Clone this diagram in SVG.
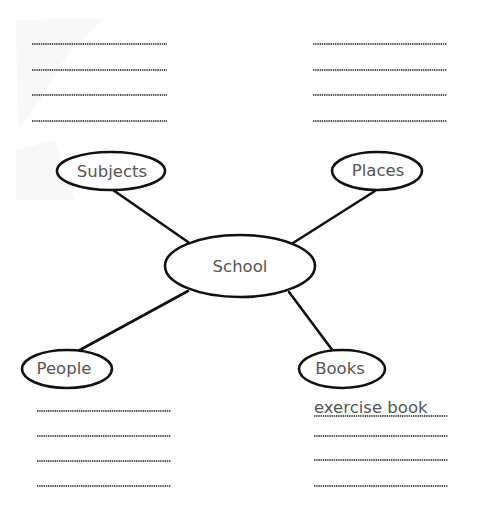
<svg xmlns="http://www.w3.org/2000/svg" width="481" height="520" viewBox="0 0 481 520">
<style>
.bg{fill:#fff}
.node ellipse{fill:#fff;stroke:#111;stroke-width:2.6}
.lbl{font-family:"DejaVu Sans",sans-serif;font-size:16.5px;fill:#555;text-anchor:middle}
.conn line{stroke:#111;stroke-width:2.6;stroke-linecap:round}
.dots line{stroke:#222;stroke-width:1.6;stroke-dasharray:1.4 0.8}
</style>
<rect class="bg" x="0" y="0" width="481" height="520"/>
<path d="M16 20 L105 18 L70 50 L40 100 L18 130 Z M16 150 L55 140 L75 200 L16 200 Z" fill="#f8f8f8"/>
<g class="dots" id="lines-top-left">
<line x1="32" y1="44" x2="167" y2="44"/>
<line x1="32" y1="70" x2="167" y2="70"/>
<line x1="32" y1="95" x2="167" y2="95"/>
<line x1="32" y1="121" x2="167" y2="121"/>
</g>
<g class="dots" id="lines-top-right">
<line x1="313" y1="44" x2="447" y2="44"/>
<line x1="313" y1="70" x2="447" y2="70"/>
<line x1="313" y1="95" x2="447" y2="95"/>
<line x1="313" y1="121" x2="447" y2="121"/>
</g>
<g class="dots" id="lines-bottom-left">
<line x1="37" y1="411" x2="171" y2="411"/>
<line x1="37" y1="436" x2="171" y2="436"/>
<line x1="37" y1="461" x2="171" y2="461"/>
<line x1="37" y1="486" x2="171" y2="486"/>
</g>
<g class="dots" id="lines-bottom-right">
<line x1="314" y1="416" x2="448" y2="416"/>
<line x1="314" y1="436" x2="448" y2="436"/>
<line x1="314" y1="460" x2="448" y2="460"/>
<line x1="314" y1="486" x2="448" y2="486"/>
</g>
<g class="conn" id="connectors">
<line x1="113" y1="190" x2="188" y2="242"/>
<line x1="375" y1="191" x2="293" y2="243"/>
<line x1="78" y1="351" x2="188" y2="291"/>
<line x1="333" y1="351" x2="289" y2="292"/>
</g>
<g class="node" id="school">
<ellipse cx="240" cy="266" rx="75" ry="31"/>
<text class="lbl" x="240" y="272">School</text>
</g>
<g class="node" id="subjects">
<ellipse cx="111" cy="171" rx="54" ry="19"/>
<text class="lbl" x="112" y="177">Subjects</text>
</g>
<g class="node" id="places">
<ellipse cx="377" cy="171" rx="45" ry="19"/>
<text class="lbl" x="378" y="176">Places</text>
</g>
<g class="node" id="people">
<ellipse cx="67" cy="369" rx="45" ry="19"/>
<text class="lbl" x="64" y="374">People</text>
</g>
<g class="node" id="books">
<ellipse cx="342" cy="369" rx="43" ry="19"/>
<text class="lbl" x="340" y="374">Books</text>
</g>
<text class="lbl" x="314" y="413" style="text-anchor:start">exercise book</text>
</svg>
